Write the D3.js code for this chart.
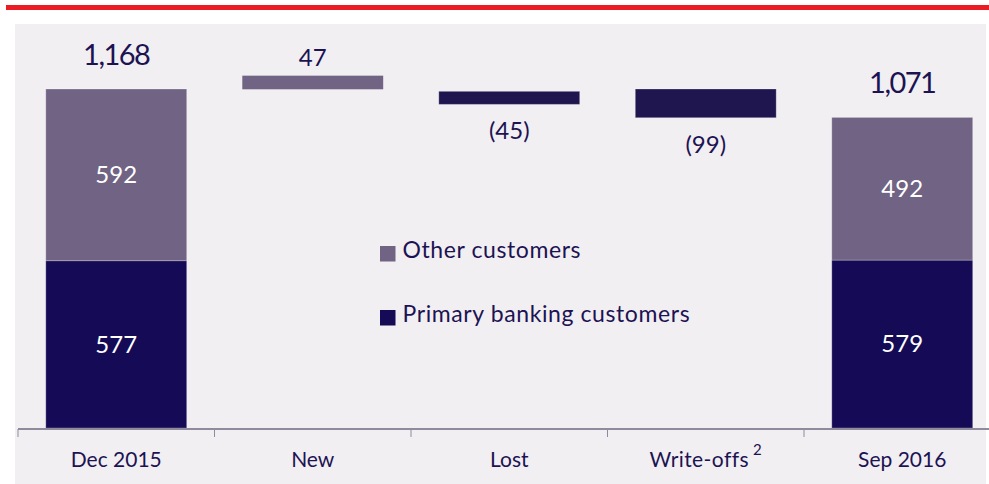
<!DOCTYPE html>
<html>
<head>
<meta charset="utf-8">
<script src="https://cdn.jsdelivr.net/npm/d3@7"></script>
<style>
  html, body { margin: 0; padding: 0; background: #ffffff; }
  svg { display: block; font-family: Lato, "Open Sans", sans-serif; }
</style>
</head>
<body>
<svg id="chart" width="989" height="484"></svg>
<script>
// ---- data ----
const categories = ["Dec 2015", "New", "Lost", "Write-offs", "Sep 2016"];
const primaryCustomers = [577, null, null, null, 579];
const otherCustomers = [592, null, null, null, 492];
const totalLabels = ["1,168", null, null, null, "1,071"];
const changes = [null, 47, -45, -99, null];
// where each floating bar starts
const floatStart = [null, 1168, 1161, 1169, null];
const seriesNames = ["Other customers", "Primary banking customers"];

// ---- styles ----
const colOther = "#716384";
const colPrimary = "#140a55";
const colChange = "#20164f";
const colText = "#1d1352";
const colPanel = "#f1eff2";
const colAxis = "#8f8b9d";

const svg = d3.select("#chart");
const W = 989, H = 484;

// background
svg.append("rect").attr("x", 6).attr("y", 5).attr("width", W - 6).attr("height", 5).attr("fill", "#ec1c24");
svg.append("rect").attr("x", 15).attr("y", 24).attr("width", W - 18).attr("height", H - 24).attr("fill", colPanel);

const x = d3.scaleBand().domain(categories).range([18, 18 + 5 * 196.5]).paddingInner(0.283).paddingOuter(0.1415);
const y = d3.scaleLinear().domain([0, 1168]).range([428, 89.3]);

const g = svg.append("g");

// stacked total bars
categories.forEach((c, i) => {
  if (primaryCustomers[i] == null) return;
  const p = primaryCustomers[i], o = otherCustomers[i];
  g.append("rect").attr("x", x(c)).attr("width", x.bandwidth())
    .attr("y", y(p)).attr("height", y(0) - y(p))
    .attr("fill", colPrimary).attr("stroke", "rgba(255,255,255,0.25)").attr("stroke-width", 1);
  g.append("rect").attr("x", x(c)).attr("width", x.bandwidth())
    .attr("y", y(p + o)).attr("height", y(p) - y(p + o))
    .attr("fill", colOther).attr("stroke", "rgba(255,255,255,0.25)").attr("stroke-width", 1);
  const cx = x(c) + x.bandwidth() / 2;
  g.append("text").attr("x", cx).attr("y", (y(0) + y(p)) / 2).attr("dy", "0.35em")
    .attr("text-anchor", "middle").attr("fill", "#ffffff").attr("font-size", 24).text(p);
  g.append("text").attr("x", cx).attr("y", (y(p) + y(p + o)) / 2).attr("dy", "0.35em")
    .attr("text-anchor", "middle").attr("fill", "#ffffff").attr("font-size", 24).text(o);
  g.append("text").attr("x", cx).attr("y", y(p + o) - 24)
    .attr("text-anchor", "middle").attr("fill", colText).attr("font-size", 29)
    .attr("letter-spacing", -1.5).text(totalLabels[i]);
});

// floating change bars
categories.forEach((c, i) => {
  if (changes[i] == null) return;
  const s = floatStart[i], e = s + changes[i];
  const top = Math.max(s, e), bot = Math.min(s, e);
  g.append("rect").attr("x", x(c)).attr("width", x.bandwidth())
    .attr("y", y(top)).attr("height", y(bot) - y(top))
    .attr("fill", changes[i] > 0 ? colOther : colChange)
    .attr("stroke", changes[i] > 0 ? "none" : "rgba(255,255,255,0.25)").attr("stroke-width", 1);
  const cx = x(c) + x.bandwidth() / 2;
  const label = changes[i] > 0 ? String(changes[i]) : "(" + Math.abs(changes[i]) + ")";
  g.append("text").attr("x", cx)
    .attr("y", changes[i] > 0 ? y(top) - 10 : y(bot) + 35)
    .attr("text-anchor", "middle").attr("fill", colText).attr("font-size", 24).text(label);
});

// axis
const axisG = svg.append("g").attr("transform", "translate(0,429)");
axisG.append("line").attr("x1", 18).attr("x2", W).attr("y1", 0).attr("y2", 0)
  .attr("stroke", colAxis).attr("stroke-width", 2);
categories.forEach((c, i) => {
  const bx = x(c) - x.step() * x.paddingOuter();
  axisG.append("line").attr("x1", bx).attr("x2", bx).attr("y1", 0).attr("y2", 8)
    .attr("stroke", colAxis).attr("stroke-width", 1);
});
const axis = d3.axisBottom(x).tickSize(0).tickPadding(0);
const ax = svg.append("g").attr("transform", "translate(0,429)").call(axis);
ax.select(".domain").remove();
ax.selectAll("text").attr("font-size", 21).attr("fill", colText)
  .attr("font-family", "Lato, sans-serif").attr("dy", 0).attr("y", 38);
ax.selectAll(".tick").filter(d => d === "Write-offs").select("text")
  .attr("letter-spacing", 0.4)
  .append("tspan").attr("font-size", 15).attr("dy", -12).attr("dx", 4).text("2");

// legend
const legend = svg.append("g");
const legendRows = [{ name: seriesNames[0], color: colOther, y: 246 }, { name: seriesNames[1], color: colPrimary, y: 310 }];
legendRows.forEach(r => {
  legend.append("rect").attr("x", 380).attr("y", r.y).attr("width", 15.5).attr("height", 15.5).attr("fill", r.color);
  legend.append("text").attr("x", 402.5).attr("y", r.y + 12).attr("font-size", 23)
    .attr("letter-spacing", 0.6).attr("fill", colText).text(r.name);
});
</script>
</body>
</html>
